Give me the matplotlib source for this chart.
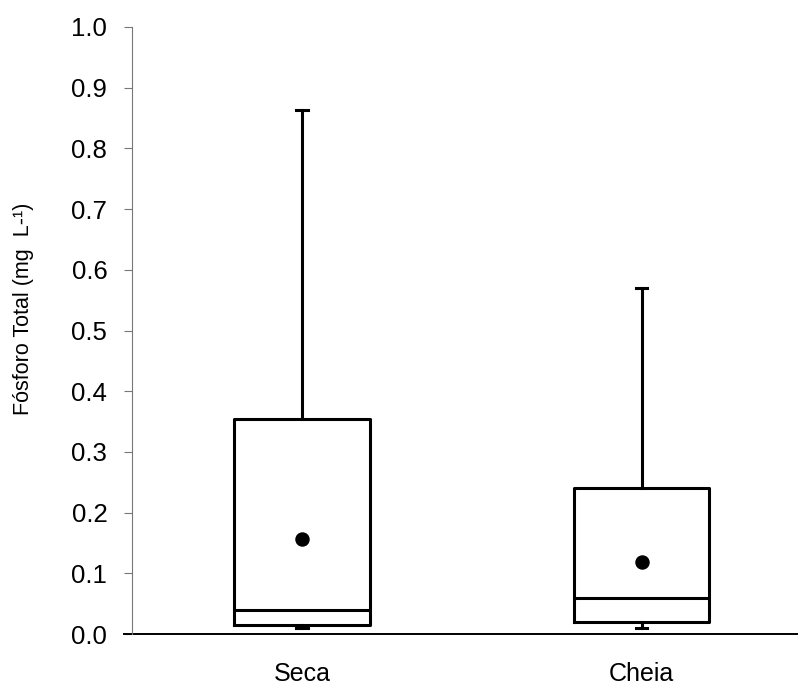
import matplotlib
matplotlib.use("Agg")
from matplotlib import pyplot as plt

plt.rcParams['font.family'] = ['Liberation Sans', 'DejaVu Sans']

# box statistics
categories = ["Seca", "Cheia"]
whislo = [0.010, 0.010]
q1 = [0.015, 0.020]
med = [0.040, 0.060]
q3 = [0.354, 0.240]
whishi = [0.864, 0.570]
means = [0.157, 0.119]

stats = []
for i in range(len(categories)):
    stats.append(dict(label=categories[i], whislo=whislo[i], q1=q1[i], med=med[i],
                      q3=q3[i], whishi=whishi[i], mean=means[i], fliers=[]))

fig = plt.figure(figsize=(7.98, 6.86), dpi=100)
ax = fig.add_axes([132/798, 1-634/686, 665/798, 607/686])

lw = 2.2
ax.bxp(stats, positions=[0, 1], widths=0.40, showmeans=True, showfliers=False,
       capwidths=0.034, patch_artist=False,
       boxprops=dict(color='black', linewidth=lw),
       medianprops=dict(color='black', linewidth=lw),
       whiskerprops=dict(color='black', linewidth=lw),
       capprops=dict(color='black', linewidth=lw),
       meanprops=dict(marker='o', markerfacecolor='black', markeredgecolor='black',
                      markersize=9.4))

ax.set_xlim(-0.5007, 1.458)
ax.set_ylim(0, 1.0)
ax.set_yticks([i/10 for i in range(11)])
ax.set_yticklabels(["%.1f" % (i/10) for i in range(11)])

for s in ['top', 'right', 'bottom']:
    ax.spines[s].set_visible(False)
ax.spines['left'].set_color('#777777')
ax.spines['left'].set_linewidth(0.8)

# bottom line runs a bit left of the y axis
ax.axhline(0, xmin=-8/665, xmax=1, color='black', linewidth=1.4, clip_on=False)

ax.tick_params(axis='y', direction='out', length=5.8, width=0.8, color='#777777',
               pad=12, labelsize=18.5)
ax.tick_params(axis='x', length=0, pad=20, labelsize=18)

fig.text(24/798, 1-309/686, "Fósforo Total (mg  L-¹)", rotation=90,
         ha='center', va='center', fontsize=15.5)

fig.savefig("out.png", dpi=100)
